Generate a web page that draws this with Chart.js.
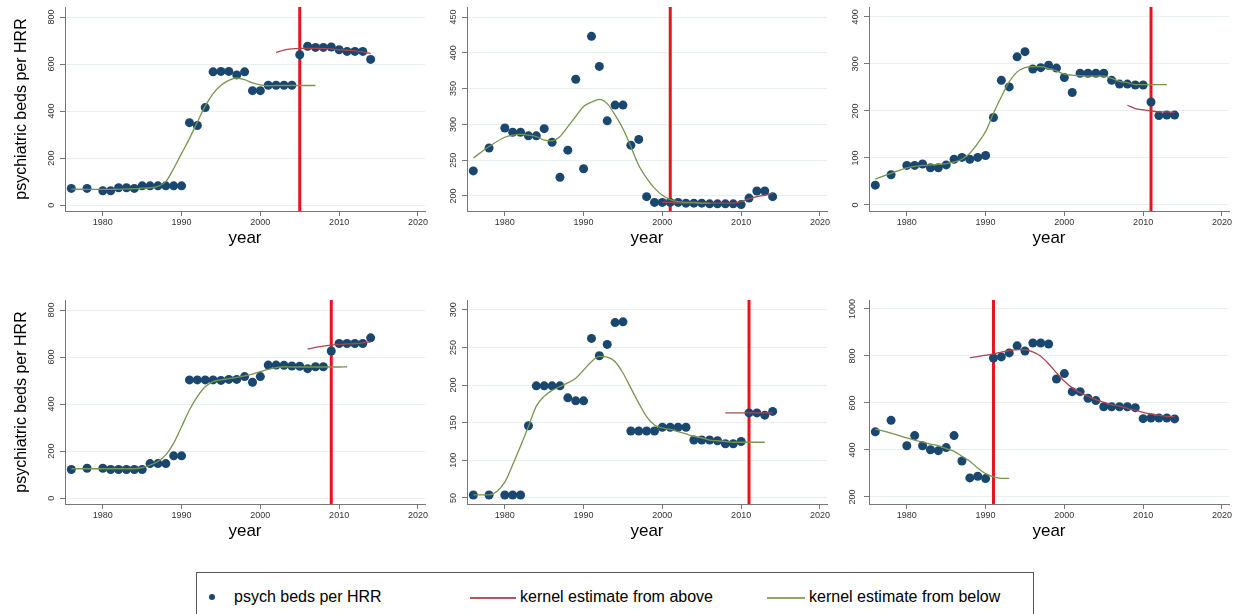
<!DOCTYPE html>
<html lang="en">
<head>
<meta charset="UTF-8">
<title>Psychiatric beds per HRR</title>
<script src="https://cdn.jsdelivr.net/npm/chart.js"></script>
<style>
    body {
        margin: 0;
        width: 1241px;
        height: 614px;
        background: #fff;
        overflow: hidden;
        position: relative;
        font-family: Arial, "Liberation Sans", sans-serif;
    }
    .panel { position: absolute; width: 430px; height: 250px; }
    .legend {
        position: absolute;
        left: 196px;
        top: 572px;
        width: 838px;
        height: 60px;
        border: 1px solid #555;
        box-sizing: border-box;
    }
    .item { position: absolute; top: 14px; font-size: 16px; line-height: 20px; color: #000; white-space: nowrap; }
    .dot { position: absolute; left: 12px; top: 21px; width: 6px; height: 6px; border-radius: 50%; background: #1a476f; }
    .swatch { position: absolute; top: 24px; height: 2px; }
</style>
</head>
<body>
    <canvas id="p1" class="panel" width="430" height="250" style="left:0;top:0"></canvas>
    <canvas id="p2" class="panel" width="430" height="250" style="left:402px;top:0"></canvas>
    <canvas id="p3" class="panel" width="430" height="250" style="left:804px;top:0"></canvas>
    <canvas id="p4" class="panel" width="430" height="250" style="left:0;top:293px"></canvas>
    <canvas id="p5" class="panel" width="430" height="250" style="left:402px;top:293px"></canvas>
    <canvas id="p6" class="panel" width="430" height="250" style="left:804px;top:293px"></canvas>

    <div class="legend">
        <div class="dot"></div>
        <div class="item" style="left:37px">psych beds per HRR</div>
        <div class="swatch" style="left:273px;width:46px;background:#b0585f"></div>
        <div class="item" style="left:323px">kernel estimate from above</div>
        <div class="swatch" style="left:570px;width:38px;background:#8fa66f"></div>
        <div class="item" style="left:612px">kernel estimate from below</div>
    </div>

<script>
// years observed (1977 and 1979 missing)
const years = [1976, 1978, 1980, 1981, 1982, 1983, 1984, 1985, 1986, 1987, 1988, 1989, 1990,
    1991, 1992, 1993, 1994, 1995, 1996, 1997, 1998, 1999, 2000, 2001, 2002, 2003, 2004,
    2005, 2006, 2007, 2008, 2009, 2010, 2011, 2012, 2013, 2014];
const xTicks = [1980, 1990, 2000, 2010, 2020];

// beds per HRR, one array per panel
const beds1 = [71, 71, 61, 61, 74, 74, 71, 82, 82, 82, 82, 82, 82, 351, 339, 415, 567, 569, 569, 554,
    567, 487, 487, 510, 510, 510, 510, 640, 676, 671, 671, 673, 661, 654, 654, 654, 620];
const beds2 = [235, 267, 295, 289, 289, 284, 284, 294, 275, 226, 264, 363, 238, 423, 381, 305, 327, 327,
    271, 279, 199, 191, 191, 191, 191, 190, 190, 190, 189, 189, 189, 189, 188, 197, 207, 207, 199];
const beds3 = [42, 64, 84, 84, 87, 79, 79, 85, 97, 101, 97, 101, 105, 186, 265, 251, 315, 326, 289, 292,
    297, 291, 271, 239, 280, 280, 280, 280, 265, 257, 257, 255, 255, 219, 190, 191, 191];
const beds4 = [122, 127, 127, 122, 122, 122, 122, 122, 147, 147, 147, 180, 180, 503, 503, 503, 503, 501,
    505, 505, 517, 493, 517, 566, 566, 565, 562, 561, 551, 559, 559, 626, 658, 658, 658, 658, 682];
const beds5 = [54, 54, 54, 54, 54, 146, 199, 199, 199, 199, 183, 179, 179, 262, 239, 254, 283, 284, 139,
    139, 139, 139, 144, 144, 144, 144, 127, 127, 127, 126, 122, 122, 125, 163, 163, 160, 165];
const beds6 = [477, 526, 418, 461, 418, 401, 397, 410, 461, 353, 281, 288, 278, 791, 796, 813, 843, 821,
    855, 855, 851, 702, 725, 648, 648, 620, 610, 584, 584, 584, 584, 580, 533, 536, 536, 536, 532];

// kernel estimate from below: starts at the first year
const below1 = [68, 67, 67, 67, 68, 69, 70, 72, 74, 80, 100, 156, 220, 283, 354, 421, 474, 510, 531, 541,
    534, 520, 512, 508, 509, 509, 509, 509, 509, 509];
const below2 = [253, 269, 282, 285, 286, 285, 283, 278, 277, 283, 297, 311, 325, 331, 335, 329, 313, 294,
    269, 243, 225, 211, 201, 195, 192, 191, 191, 190, 190];
const below3 = [55, 67, 79, 82, 84, 85, 86, 88, 91, 97, 110, 131, 156, 195, 230, 262, 283, 292, 294, 294,
    290, 285, 278, 276, 275, 274, 274, 274, 269, 263, 260, 256, 256, 256, 256, 256];
const below4 = [125, 125, 125, 125, 125, 125, 125, 130, 140, 156, 184, 234, 304, 375, 432, 474, 496, 503,
    508, 514, 520, 528, 538, 548, 555, 559, 558, 558, 558, 558, 558, 558, 558, 559];
const below5 = [54, 54, 71, 94, 119, 145, 172, 185, 193, 198, 203, 209, 220, 231, 238, 237, 231, 216, 196,
    176, 158, 147, 143, 141, 138, 135, 132, 130, 127, 126, 125, 124, 124, 124, 124, 124];
const below6 = [489, 472, 451, 442, 433, 425, 418, 406, 394, 373, 352, 323, 299, 285, 279, 279];

// kernel estimate from above: ends at the last year
const above1 = [649, 660, 665, 667, 667, 667, 666, 665, 662, 659, 656, 652, 645];
const above2 = [191, 191, 190, 190, 190, 190, 190, 190, 190, 190, 192, 196, 199, 201, 204];
const above3 = [212, 205, 202, 200, 198, 198, 197];
const above4 = [634, 641, 647, 651, 654, 656, 658, 661, 665];
const above5 = [163, 163, 163, 163, 163, 163, 163];
const above6 = [793, 797, 803, 809, 816, 823, 827, 827, 817, 799, 767, 728, 692, 664, 643, 628, 614, 603,
    593, 586, 577, 569, 560, 553, 548, 543, 542];

// cutoff year (red line) per panel
const cutoffs = [2005, 2001, 2011, 2009, 2011, 1991];

// y tick labels per panel
const yTicks = [
    [0, 200, 400, 600, 800],
    [200, 250, 300, 350, 400, 450],
    [0, 100, 200, 300, 400],
    [0, 200, 400, 600, 800],
    [50, 100, 150, 200, 250, 300],
    [200, 400, 600, 800, 1000]
];
const yRanges = [[-25, 843], [179, 464], [-13, 421], [-25, 843], [42, 313], [170, 1038]];

const navy = "#1a476f";
const maroon = "#a8474f";
const green = "#779450";
const cutRed = "#e8141b";
const fam = "Arial, 'Liberation Sans', sans-serif";

function pairs(xs, ys) {
    return ys.map((y, i) => ({ x: xs[i], y: y }));
}

function makePanel(id, idx, beds, below, above, showTitle) {
    const [yMin, yMax] = yRanges[idx];
    const cut = cutoffs[idx];
    new Chart(document.getElementById(id), {
        type: "scatter",
        data: {
            datasets: [
                {
                    type: "line",
                    data: pairs(years.slice(0, below.length), below),
                    borderColor: green, borderWidth: 1.3, pointRadius: 0,
                    cubicInterpolationMode: "monotone", order: 1
                },
                {
                    type: "line",
                    data: pairs(years.slice(years.length - above.length), above),
                    borderColor: maroon, borderWidth: 1.3, pointRadius: 0,
                    cubicInterpolationMode: "monotone", order: 1
                },
                {
                    data: pairs(years, beds),
                    pointRadius: 4.5, backgroundColor: navy, borderWidth: 0, order: 2
                },
                {
                    type: "line",
                    data: [{ x: cut, y: yMin }, { x: cut, y: yMax }],
                    borderColor: cutRed, borderWidth: 3, pointRadius: 0, order: 3
                }
            ]
        },
        options: {
            responsive: false,
            animation: false,
            events: [],
            layout: { padding: { top: 7, right: 5, left: 0, bottom: 0 } },
            plugins: { legend: { display: false }, tooltip: { enabled: false } },
            scales: {
                x: {
                    type: "linear", min: 1975.2, max: 2020.9,
                    afterBuildTicks: s => { s.ticks = xTicks.map(v => ({ value: v })); },
                    afterFit: s => { s.height = 39; },
                    grid: { drawOnChartArea: false, tickLength: 5, tickColor: "#777" },
                    border: { color: "#777", width: 1 },
                    ticks: { font: { size: 9, family: fam }, color: "#333", padding: 1, maxRotation: 0, callback: v => String(v) },
                    title: { display: true, text: "year", color: "#000", font: { size: 17, family: fam }, padding: { top: 0, bottom: 1 } }
                },
                y: {
                    min: yMin, max: yMax,
                    afterBuildTicks: s => { s.ticks = yTicks[idx].map(v => ({ value: v })); },
                    afterFit: s => { s.width = 65; },
                    grid: { color: "#e6eff1", tickLength: 5, tickColor: "#777" },
                    border: { color: "#777", width: 1 },
                    ticks: { font: { size: 9, family: fam }, color: "#333", minRotation: 90, maxRotation: 90, crossAlign: "center", padding: 1, callback: v => String(v) },
                    title: { display: showTitle, text: "psychiatric beds per HRR", color: "#000", font: { size: 16, family: fam }, padding: { top: 12 } }
                }
            }
        }
    });
}

makePanel("p1", 0, beds1, below1, above1, true);
makePanel("p2", 1, beds2, below2, above2, false);
makePanel("p3", 2, beds3, below3, above3, false);
makePanel("p4", 3, beds4, below4, above4, true);
makePanel("p5", 4, beds5, below5, above5, false);
makePanel("p6", 5, beds6, below6, above6, false);
</script>
</body>
</html>
